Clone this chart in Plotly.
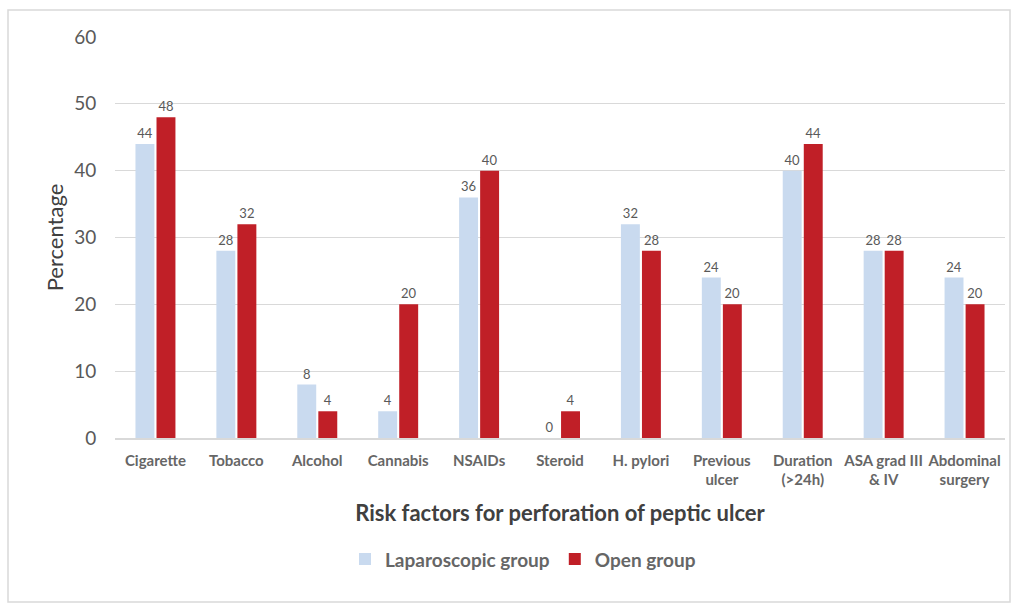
import plotly.graph_objects as go

categories = ["Cigarette", "Tobacco", "Alcohol", "Cannabis", "NSAIDs", "Steroid",
              "H. pylori", "Previous<br>ulcer", "Duration<br>(>24h)", "ASA grad III<br>& IV",
              "Abdominal<br>surgery"]
laparoscopic = [44, 28, 8, 4, 36, 0, 32, 24, 40, 28, 24]
open_group = [48, 32, 4, 20, 40, 4, 28, 20, 44, 28, 20]

FONT = "Lato"
fig = go.Figure()
fig.add_trace(go.Bar(
    x=categories, y=laparoscopic, name="Laparoscopic group",
    marker=dict(color="#c9daef", line=dict(width=0)),
    text=[str(v) for v in laparoscopic], textposition="outside",
    textfont=dict(size=13, color="#595959", family=FONT), cliponaxis=False,
))
fig.add_trace(go.Bar(
    x=categories, y=open_group, name="Open group",
    marker=dict(color="#c01f27", line=dict(width=0)),
    text=[str(v) for v in open_group], textposition="outside",
    textfont=dict(size=13, color="#595959", family=FONT), cliponaxis=False,
))

fig.update_layout(
    width=1017, height=603,
    margin=dict(l=115, r=12, t=37, b=165),
    paper_bgcolor="white", plot_bgcolor="white",
    font=dict(family=FONT, color="#595959"),
    barmode="group", bargap=0.48, bargroupgap=0.1,
    showlegend=True,
    legend=dict(orientation="h", x=(345 - 115) / 890, xanchor="left", y=-0.255, yanchor="top",
                font=dict(size=19, color="#666666", family=FONT, weight="bold"),
                itemwidth=30, traceorder="normal"),
    xaxis=dict(
        tickfont=dict(size=15, color="#666666", family=FONT, weight="bold"),
        showgrid=False, showline=True, linecolor="#d9d9d9", linewidth=1.5,
        ticks="outside", ticklen=8, tickcolor="white",
        title=dict(text="Risk factors for perforation of peptic ulcer",
                   font=dict(size=22, color="#404040", family=FONT, weight="bold"), standoff=18),
    ),
    yaxis=dict(
        range=[0, 60], dtick=10, tickfont=dict(size=19, color="#595959", family=FONT),
        showgrid=True, gridcolor="#d9d9d9", gridwidth=1.3, zeroline=False,
        ticks="outside", ticklen=14, tickcolor="white",
        title=dict(text="Percentage", font=dict(size=22, color="#404040", family=FONT), standoff=4),
    ),
    shapes=[dict(type="rect", xref="paper", yref="paper",
                 x0=(8 - 115) / 890, x1=(1010 - 115) / 890,
                 y0=(438 - 602) / 401, y1=(438 - 10) / 401,
                 line=dict(color="#d9d9d9", width=1.5), layer="below")],
)

fig.write_html("out.html")
